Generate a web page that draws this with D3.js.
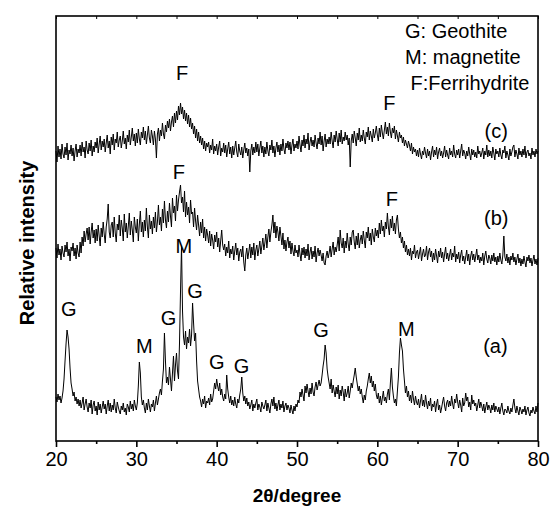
<!DOCTYPE html>
<html>
<head>
<meta charset="utf-8">
<script src="https://cdn.jsdelivr.net/npm/d3@7"></script>
<style>
body { margin: 0; background: #fff; }
svg { display: block; font-family: Arial, "Liberation Sans", sans-serif; }
</style>
</head>
<body>
<svg width="550" height="508"></svg>
<script>
// 2theta grid of the scans (degrees)
var twoThetaStart = 20;
var twoThetaStep = 0.125;

// relative intensity (a.u., curves already stacked), one row = one degree
var seriesA = [
    44, 39, 47, 41, 45, 38, 43, 50,
    62, 80, 97, 111, 104, 92, 73, 58,
    52, 45, 49, 40, 44, 37, 42, 35,
    41, 33, 38, 44, 31, 37, 42, 34,
    29, 38, 33, 41, 27, 36, 40, 30,
    35, 26, 39, 31, 37, 28, 34, 40,
    32, 37, 27, 35, 41, 30, 38, 29,
    36, 31, 42, 33, 28, 39, 34, 30,
    27, 35, 31, 38, 29, 33, 26, 37,
    34, 29, 40, 32, 37, 30, 41, 35,
    31, 38, 55, 79, 68, 44, 36, 41,
    33, 28, 38, 31, 42, 35, 29, 37,
    34, 41, 30, 38, 45, 36, 42, 48,
    52, 46, 60, 72, 108, 80, 58, 64,
    56, 74, 62, 50, 68, 85, 60, 76,
    88, 70, 62, 98, 150, 195, 130, 104,
    96, 110, 92, 104, 98, 112, 95, 106,
    138, 118, 100, 108, 80, 60, 52, 44,
    40, 34, 42, 37, 45, 33, 40, 38,
    43, 36, 47, 39, 42, 50, 58, 52,
    62, 55, 50, 58, 46, 52, 44, 40,
    47, 42, 66, 52, 44, 38, 45, 36,
    41, 35, 44, 37, 33, 42, 38, 46,
    52, 64, 48, 40, 45, 37, 43, 35,
    39, 32, 36, 41, 30, 37, 33, 38,
    42, 31, 37, 34, 29, 39, 35, 32,
    36, 41, 30, 38, 33, 28, 37, 42,
    35, 44, 32, 38, 30, 36, 41, 31,
    37, 33, 40, 29, 35, 38, 31, 36,
    33, 28, 36, 31, 27, 35, 30, 37,
    34, 41, 38, 49, 44, 52, 46, 40,
    55, 48, 57, 50, 44, 53, 47, 58,
    49, 45, 54, 59, 51, 56, 61, 55,
    58, 66, 75, 82, 96, 88, 72, 64,
    58, 52, 62, 48, 56, 50, 44, 54,
    47, 56, 42, 51, 45, 55, 49, 40,
    52, 44, 48, 55, 43, 50, 58, 53,
    60, 66, 73, 64, 57, 50, 55, 47,
    52, 44, 38, 46, 41, 50, 55, 62,
    68, 58, 65, 54, 60, 50, 57, 46,
    42, 48, 38, 45, 36, 43, 50, 40,
    44, 38, 47, 52, 41, 58, 73, 54,
    45, 38, 42, 35, 50, 64, 88, 103,
    96, 90, 72, 60, 48, 55, 44, 50,
    40, 46, 38, 50, 42, 36, 45, 39,
    36, 42, 33, 40, 47, 35, 41, 34,
    46, 38, 32, 40, 35, 43, 30, 37,
    34, 40, 29, 37, 42, 31, 36, 28,
    33, 39, 44, 35, 30, 38, 41, 34,
    40, 35, 45, 37, 32, 42, 38, 47,
    39, 33, 41, 36, 29, 43, 35, 38,
    48, 40, 44, 34, 39, 31, 46, 37,
    41, 35, 38, 30, 36, 42, 33, 39,
    35, 30, 37, 28, 34, 39, 31, 36,
    33, 28, 36, 31, 38, 29, 35, 32,
    29, 34, 27, 33, 38, 30, 26, 32,
    31, 28, 35, 30, 27, 33, 29, 36,
    42, 33, 28, 35, 30, 26, 34, 31,
    27, 32, 29, 35, 26, 31, 34, 28,
    25, 31, 28, 34, 30, 27, 35, 29,
    38
];

var seriesB = [
    193, 183, 197, 186, 192, 181, 195, 188,
    184, 196, 189, 199, 185, 192, 180, 194,
    190, 198, 185, 193, 182, 196, 188, 184,
    199, 188, 204, 195, 210, 199, 207, 213,
    201, 214, 197, 209, 218, 203, 211, 198,
    212, 200, 216, 205, 195, 213, 204, 219,
    207, 198, 214, 222, 237, 209, 203, 216,
    219, 204, 224, 208, 199, 217, 211, 226,
    205, 221, 213, 200, 227, 209, 218, 203,
    215, 228, 206, 220, 211, 199, 224, 214,
    208, 222, 200, 217, 230, 209, 219, 204,
    221, 210, 233, 214, 203, 226, 212, 220,
    207, 224, 213, 229, 209, 219, 236, 216,
    224, 210, 232, 218, 240, 221, 213, 230,
    219, 238, 225, 214, 243, 228, 235, 220,
    246, 230, 241, 249, 256, 238, 244, 229,
    250, 224, 239, 226, 234, 218, 241, 227,
    229, 214, 233, 220, 211, 226, 216, 205,
    219, 208, 222, 203, 214, 200, 212, 206,
    198, 210, 195, 207, 201, 192, 206, 199,
    209, 194, 203, 189, 200, 211, 196, 191,
    197, 185, 194, 188, 200, 183, 192, 187,
    195, 181, 190, 198, 186, 193, 180, 189,
    192, 184, 195, 179, 170, 186, 193, 182,
    189, 197, 183, 194, 186, 198, 181, 191,
    196, 185, 192, 200, 187, 195, 203, 191,
    198, 207, 193, 204, 212, 199, 209, 216,
    226, 208, 219, 203, 215, 209, 200, 214,
    205, 196, 208, 192, 201, 190, 199, 204,
    193, 200, 187, 198, 190, 185, 196, 188,
    191, 184, 196, 187, 180, 193, 186, 194,
    183, 192, 185, 197, 181, 189, 194, 182,
    190, 184, 195, 179, 188, 193, 185, 191,
    186, 180, 188, 178, 176, 185, 190, 183,
    188, 195, 184, 192, 199, 186, 194, 189,
    196, 204, 190, 211, 198, 193, 203, 188,
    200, 193, 208, 197, 190, 204, 196, 209,
    211, 199, 192, 205, 196, 208, 193, 201,
    206, 197, 210, 201, 193, 209, 203, 214,
    200, 208, 196, 212, 204, 199, 213, 205,
    211, 203, 218, 207, 221, 210, 215, 204,
    219, 212, 228, 214, 206, 222, 213, 225,
    210, 218, 207, 221, 226, 212, 203, 209,
    198, 204, 193, 200, 189, 196, 186, 192,
    185, 193, 181, 190, 187, 196, 183, 189,
    191, 182, 188, 194, 180, 187, 192, 184,
    186, 195, 181, 189, 193, 184, 190, 179,
    188, 181, 192, 185, 178, 190, 184, 193,
    183, 189, 179, 187, 194, 182, 188, 180,
    186, 192, 181, 188, 184, 195, 179, 187,
    182, 189, 178, 186, 191, 180, 185, 177,
    184, 191, 180, 187, 176, 185, 190, 181,
    187, 179, 185, 192, 181, 186, 178, 184,
    180, 188, 176, 185, 190, 182, 178, 186,
    183, 177, 186, 180, 188, 179, 184, 176,
    185, 179, 188, 181, 177, 186, 205, 184,
    180, 187, 178, 184, 176, 185, 181, 188,
    179, 184, 176, 182, 187, 178, 183, 175,
    182, 177, 185, 179, 174, 184, 180, 186,
    178, 183, 175, 181, 186, 177, 182, 176,
    183
];

var seriesC = [
    290, 279, 295, 284, 292, 282, 297, 287,
    283, 294, 286, 298, 281, 291, 287, 296,
    285, 293, 280, 290, 297, 284, 292, 288,
    296, 285, 299, 289, 294, 283, 300, 291,
    287, 298, 290, 301, 285, 295, 289, 299,
    293, 303, 288, 297, 305, 291, 300, 294,
    302, 289, 298, 306, 293, 300, 287, 304,
    296, 307, 291, 302, 298, 309, 294, 301,
    305, 293, 300, 310, 297, 303, 292, 306,
    299, 311, 296, 304, 313, 300, 307, 295,
    308, 298, 312, 302, 296, 309, 303, 314,
    301, 310, 297, 306, 315, 303, 298, 311,
    305, 296, 310, 302, 283, 307, 313, 300,
    311, 305, 318, 307, 302, 316, 309, 320,
    313, 322, 310, 319, 325, 314, 328, 318,
    330, 321, 335, 326, 338, 327, 334, 322,
    331, 320, 328, 317, 326, 314, 323, 312,
    318, 307, 315, 303, 312, 300, 309, 298,
    305, 296, 303, 292, 300, 290, 298, 294,
    299, 288, 296, 291, 302, 287, 295, 290,
    297, 286, 294, 300, 285, 293, 289, 298,
    288, 296, 284, 292, 299, 287, 294, 283,
    295, 286, 293, 300, 289, 284, 297, 290,
    286, 294, 283, 291, 298, 288, 293, 285,
    292, 269, 290, 297, 286, 294, 288, 299,
    289, 297, 285, 293, 300, 288, 295, 284,
    294, 287, 299, 290, 285, 296, 291, 301,
    288, 295, 284, 293, 299, 289, 296, 286,
    297, 290, 302, 292, 287, 298, 293, 300,
    291, 299, 287, 296, 302, 290, 297, 293,
    300, 292, 305, 296, 289, 301, 295, 306,
    293, 302, 297, 308, 291, 299, 304, 295,
    301, 294, 306, 298, 292, 303, 297, 309,
    296, 305, 290, 300, 307, 294, 302, 297,
    304, 297, 309, 300, 293, 306, 299, 310,
    302, 295, 308, 299, 311, 297, 304, 300,
    309, 301, 306, 296, 303, 274, 300, 307,
    298, 310, 303, 295, 308, 301, 313, 299,
    306, 300, 311, 303, 297, 309, 304, 314,
    301, 310, 305, 299, 312, 303, 308, 315,
    306, 300, 313, 304, 316, 308, 302, 311,
    319, 307, 314, 305, 318, 309, 303, 313,
    308, 315, 302, 311, 305, 299, 309, 303,
    306, 298, 304, 295, 301, 297, 293, 300,
    296, 290, 298, 287, 294, 289, 292, 285,
    291, 284, 293, 287, 282, 290, 286, 294,
    288, 283, 292, 285, 290, 281, 289, 295,
    284, 291, 286, 294, 282, 289, 293, 285,
    290, 283, 288, 295, 284, 291, 286, 282,
    293, 286, 290, 284, 296, 287, 283, 291,
    286, 292, 283, 290, 297, 285, 291, 288,
    282, 290, 285, 294, 287, 281, 292, 286,
    291, 284, 289, 283, 295, 287, 290, 284,
    288, 293, 282, 290, 286, 296, 284, 291,
    285, 290, 283, 294, 288, 281, 292, 287,
    290, 284, 293, 286, 282, 291, 288, 295,
    283, 290, 286, 281, 292, 285, 289, 294,
    296, 284, 291, 287, 282, 293, 286, 290,
    284, 292, 286, 295, 283, 289, 291, 285,
    288, 282, 293, 286, 290, 284, 292, 287,
    290
];

// phase marks: text, 2theta, intensity of the text baseline
var phaseText  = ["F", "F", "F", "F", "G", "M", "G", "M", "G", "G", "G", "G", "M"];
var phaseTheta = [35.7, 61.5, 35.3, 61.8, 21.6, 31.0, 34.0, 35.9, 37.3, 40.0, 43.1, 53.0, 63.6];
var phaseLevel = [361, 331, 262, 235, 125, 88, 116, 188, 143, 72, 68, 104, 105];

var curveNames = ["(a)", "(b)", "(c)"];
var curveNameTheta = [74.7, 74.8, 74.8];
var curveNameLevel = [88, 216, 303];

var legendLines = ["G: Geothite", "M: magnetite", " F:Ferrihydrite"];

var xTicks = [20, 30, 40, 50, 60, 70, 80];
var xMinorTicks = [25, 35, 45, 55, 65, 75];

var svg = d3.select("svg");

var x = d3.scaleLinear().domain([20, 80]).range([56, 538]);
var y = d3.scaleLinear().domain([0, 425]).range([441, 16]);

function toPoints(values) {
    return values.map(function(v, i) {
        return [twoThetaStart + i * twoThetaStep, v];
    });
}

var line = d3.line()
    .x(function(d) { return x(d[0]); })
    .y(function(d) { return y(d[1]); });

svg.append("g")
    .selectAll("path")
    .data([seriesA, seriesB, seriesC])
    .enter()
    .append("path")
    .attr("d", function(d) { return line(toPoints(d)); })
    .attr("fill", "none")
    .attr("stroke", "#000")
    .attr("stroke-width", 1)
    .attr("stroke-linejoin", "round");

// axes
var bottom = svg.append("g")
    .attr("transform", "translate(0,441)")
    .call(d3.axisBottom(x).tickValues(xTicks).tickSize(6).tickPadding(5));
bottom.select(".domain").remove();
bottom.selectAll("line").attr("stroke-width", 1.6);
bottom.selectAll("text")
    .attr("font-size", 20)
    .attr("font-family", "Arial, 'Liberation Sans', sans-serif")
    .attr("fill", "#000");

svg.append("g")
    .attr("transform", "translate(0,441)")
    .call(d3.axisBottom(x).tickValues(xMinorTicks).tickSize(3).tickFormat(""))
    .call(function(g) { g.select(".domain").remove(); })
    .selectAll("line").attr("stroke-width", 1.6);

svg.append("g")
    .attr("transform", "translate(0,16)")
    .call(d3.axisTop(x).tickValues(xTicks.concat(xMinorTicks)).tickSize(-3).tickFormat(""))
    .call(function(g) { g.select(".domain").remove(); })
    .selectAll("line").attr("stroke-width", 1);

svg.append("rect")
    .attr("x", 56)
    .attr("y", 16)
    .attr("width", 482)
    .attr("height", 425)
    .attr("fill", "none")
    .attr("stroke", "#000")
    .attr("stroke-width", 1.6);

// labels on peaks
svg.append("g")
    .selectAll("text")
    .data(phaseText)
    .enter()
    .append("text")
    .attr("x", function(d, i) { return x(phaseTheta[i]); })
    .attr("y", function(d, i) { return y(phaseLevel[i]); })
    .attr("text-anchor", "middle")
    .attr("font-size", 20)
    .text(function(d) { return d; });

svg.append("g")
    .selectAll("text")
    .data(curveNames)
    .enter()
    .append("text")
    .attr("x", function(d, i) { return x(curveNameTheta[i]); })
    .attr("y", function(d, i) { return y(curveNameLevel[i]); })
    .attr("text-anchor", "middle")
    .attr("font-size", 20)
    .text(function(d) { return d; });

svg.append("g")
    .selectAll("text")
    .data(legendLines)
    .enter()
    .append("text")
    .attr("x", 405)
    .attr("y", function(d, i) { return 38 + i * 26; })
    .attr("font-size", 20)
    .attr("xml:space", "preserve")
    .style("white-space", "pre")
    .text(function(d) { return d; });

svg.append("text")
    .attr("x", 297)
    .attr("y", 502)
    .attr("text-anchor", "middle")
    .attr("font-size", 19)
    .attr("font-weight", "bold")
    .text("2\u03b8/degree");

svg.append("text")
    .attr("transform", "translate(34,243) rotate(-90)")
    .attr("text-anchor", "middle")
    .attr("font-size", 20)
    .attr("font-weight", "bold")
    .text("Relative intensity");
</script>
</body>
</html>
